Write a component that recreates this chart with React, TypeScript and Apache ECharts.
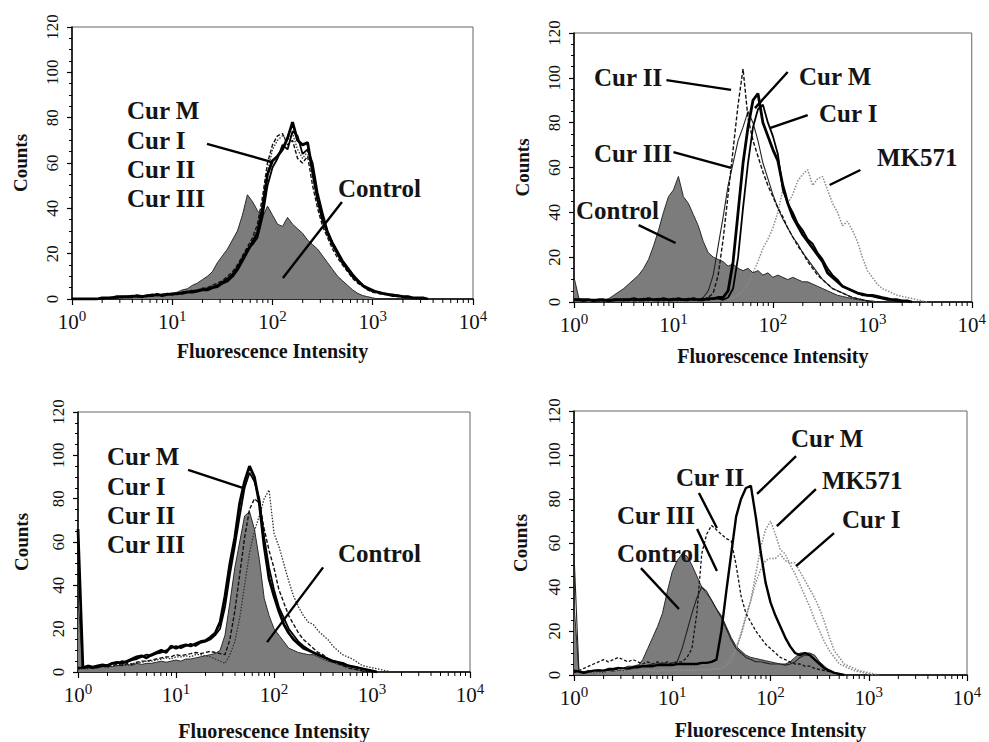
import React, { useEffect, useRef } from "react";
import * as echarts from "echarts";

// ---- channel grid (log-spaced, 20 channels per decade) ----
const DECADE_STEPS = [1, 1.122, 1.259, 1.413, 1.585, 1.778, 1.995, 2.239, 2.512, 2.818, 3.162, 3.548, 3.981, 4.467, 5.012, 5.623, 6.31, 7.079, 7.943, 8.913];
const DECADES = [1, 10, 100, 1000];
const CHANNELS = [...DECADES.flatMap((d) => DECADE_STEPS.map((s) => +(s * d).toPrecision(4))), 10000];
const MINOR_X = [2, 3, 4, 5, 6, 7, 8, 9, 20, 30, 40, 50, 60, 70, 80, 90, 200, 300, 400, 500, 600, 700, 800, 900, 2000, 3000, 4000, 5000, 6000, 7000, 8000, 9000];

// ---- Panel 1 (top-left) ----
const P1_CONTROL = [0,0,0,0,0,0,0.5,0.5,1,0.5, 1,1,1.5,1,1.5,1.5,2,1.5,2,2.5, 2.5,3,4,4.5,6,7,8.5,10,12,16, 19,22,26,30,37,46,43,39,36,41, 37,33,32,36,33,31,29,26,24,22, 19,16,13,10,8,6,4,2.5,1.5,1, 0.5,0];
const P1_CUR_M = [0,0,0,0,0,0,0.5,0.5,0.5,1, 1,1,1,1.5,1,1.5,1.5,2,1.5,2, 2,2.5,2.5,3,3,3.5,4,4,5,5.5, 7,8,10,13,17,21,25,29,40,55, 61,63,66,71,78,70,68,69,56,44, 35,29,24,20,16,13,10,8,6,4.5, 3.5,3,2.5,2,1.5,1.5,1,1,0.5,0.5,0.5,0];
const P1_CUR_I = [0,0,0,0,0,0,0,0.5,0.5,0.5, 1,1,1.5,1,1,1.5,2,1.5,2,2, 2.5,2,3,3,3.5,3.5,4,4.5,5,6, 7.5,9,11,14,18,22,24,27,36,50, 58,62,68,66,74,72,64,66,60,47, 38,30,25,21,17,14,11,8.5,6,5, 4,3,2.5,2,2,1.5,1,1,0.5,0.5,0];
const P1_CUR_II = [0,0,0,0,0,0,0.5,0.5,0.5,1, 0.5,1,1,1.5,1.5,1,2,2,1.5,2.5, 2,2.5,3,3.5,3.5,4,4.5,5,6,7, 8,10,12,15,19,23,27,33,45,60, 68,72,73,68,70,62,60,63,50,40, 32,27,22,18,15,12,9,7,5.5,4, 3,2.5,2,2,1.5,1,1,0.5,0.5,0,0];
const P1_CUR_III = [0,0,0,0,0,0,0,0.5,0.5,0.5, 1,1,1,1,1.5,1.5,1.5,2,2,2, 2.5,2.5,3,3,4,4,5,5,6,6.5, 7,9,11,14,18,22,26,31,42,56, 66,70,72,70,73,66,62,65,56,46, 36,30,24,20,16,13,10,8,6,4.5, 3.5,3,2.5,2,1.5,1.5,1,1,0.5,0.5,0];

// ---- Panel 2 (top-right) ----
const P2_CONTROL = [11,1.5,1,1,1,0.5,1,1.5,3,4.5, 6,8,10,12,15,19,25,32,40,47, 50,56,47,44,39,34,27,22,20,19, 18,16,17,15,14,15,13,14,12,13, 11,12,11,10,11,10,9,9,8,7, 6,5,4,3,2.5,2,1.5,1,1,0.5,0.5,0];
const P2_CUR_M = [1,1,1,1,0.5,1,1,0.5,1,1, 1,1,1.5,1,1,1.5,1,1,1.5,1, 1,1.5,1,1,1.5,1,1,1.5,1.5,2, 2,5,18,40,62,78,90,93,80,74, 68,63,52,44,38,34,30,27,24,21, 18,13,11,9,7,6,5,4,3.5,3, 3,2.5,2,1.5,1,1,0.5,0.5,0];
const P2_CUR_I = [1,1,0.5,1,1,1,0.5,1,1,1, 1,1,1,1,1.5,1,1,1.5,1,1, 1.5,1,1,1.5,1,1,1.5,1,1.5,1.5, 1,2,6,20,42,62,78,86,88,80, 74,66,50,44,40,35,32,28,26,22, 19,15,12,10,7,6,5,4,3,3, 2.5,2,1.5,1,1,0.5,0];
const P2_CUR_II = [1,0.5,0.5,1,0.5,0.5,1,0.5,0.5,1, 0.5,1,0.5,0.5,1,0.5,1,0.5,1,0.5, 1,0.5,1,1,1,1,1,2,4,12, 28,48,68,88,104,82,72,65,58,52, 47,42,38,33,29,25,22,18,15,12, 10,8,6,5,4,3,2,1.5,1,0.5,0];
const P2_CUR_III = [1,1,0.5,1,1,0.5,1,1,0.5,1, 1,0.5,1,1,0.5,1,1,1,0.5,1, 1,1,1,1,1,1,2,5,12,25, 38,52,62,72,78,85,80,72,62,55, 48,42,37,33,29,26,22,19,16,13, 10,8,6,5,4,3,2,1.5,1,0.5,0];
const P2_MK571 = [1,0.5,1,0.5,1,1,0.5,1,0.5,1, 1,0.5,1,1,0.5,1,1,0.5,1,1, 1,1,0.5,1,1,1,1,1,1,1, 1,1.5,2,3,5,8,13,18,24,28, 33,40,50,44,48,54,57,59,52,55, 56,50,44,40,34,36,32,27,20,14, 11,8,6,5,4,3,2.5,2,1.5,1,0.5,0];

// ---- Panel 3 (bottom-left) ----
const P3_CONTROL = [34,2,2,2.5,2,2.5,3,2.5,3,3, 3.5,3,4,3.5,4,4,4.5,5,4.5,5, 5.5,5,6,6,6.5,7,7.5,8,8.5,10, 17,32,48,60,72,74,66,52,34,26, 20,17,14,11,10,9,8.5,8,8,7, 6,5,4.5,3.5,3,2,1.5,1,0.5,0];
const P3_CUR_M = [66,2,2.5,2,2.5,3,3,4,4.5,4, 5,6,7,7.5,6.5,8,9,10,9,12, 11,12,12.5,12,13,14,14.5,16,18,23, 35,50,62,78,88,95,90,78,58,43, 35,28,22,18,15,13,11,10,9,8, 7,6,5,4.5,4,3,2.5,2,1.5,1,0.5,0];
const P3_CUR_I = [2,2,3,2.5,3,3.5,3,4,4,5, 4.5,5.5,6,7,8,7.5,8.5,9,10,11, 12,11,12,13,12,13.5,14,15,17,20, 30,45,58,72,85,92,88,80,62,48, 38,30,25,20,17,14,12,10.5,9,8, 7,6,5,4.5,3.5,3,2.5,2,1.5,1,0.5,0];
const P3_CUR_II = [1.5,2,2,2.5,2,3,2.5,3,3.5,3, 4,3.5,4.5,5,5,5.5,6,6.5,7,7, 8,7.5,8,8.5,9,8.5,9,9.5,9,8.5, 8,15,28,45,62,75,80,78,66,56, 48,38,32,26,22,18,15,13,11,9, 8,6,5,4,3,2,1.5,1,0.5,0];
const P3_CUR_III = [1,1.5,1.5,2,2,2.5,2,3,3,3.5, 3,4,4,4.5,5,5,5.5,6,6.5,6, 7,7,7.5,7,8,8,7.5,7,6,5, 4,8,14,25,40,55,65,72,80,84, 64,58,50,42,35,30,26,23,22,19, 17,15,12,10,8,7,6,4.5,3,2.5,2,1.5,1,0.5,0];

// ---- Panel 4 (bottom-right) ----
const P4_CONTROL = [32,1.5,1,1.5,1,1.5,1,2,1.5,2, 2,2.5,3,4,7,12,17,22,28,38, 47,52,55,54,50,45,40,37,34,30, 27,22,17,13,11,9,8,7.5,7,6.5, 6,5.5,5,5,6,8,10,10,10,9, 6,4,2,1,0.5,0];
const P4_CUR_III = [55,2,1.5,2,2,2.5,2,3,3,3.5, 3,4,4,4.5,4,4.5,5,5,5.5,5, 5.5,6,12,20,28,35,40,38,34,30, 26,21,16,12,10,8,7,6,6,5.5, 5,5,5,4.5,5,6,8,9,9,7, 5,3,2,1,0.5,0];
const P4_CUR_M = [2,1.5,1,1.5,2,2,2,2.5,2.5,3, 3,3,3.5,3.5,4,4,4,4.5,4.5,4.5, 4.5,5,5,5,5,5,5.5,5.5,6,7, 20,38,55,72,80,85,86,72,56,42, 33,27,22,17,13,10,9,10,9,7, 5,3,2,1,0.5,0];
const P4_CUR_II = [1,2,3,4,5,6,7,6,7,8, 7,6,7,6,5,6,5,6,5,6, 5,6,6,8,12,28,55,64,68,66, 64,62,61,50,36,28,24,20,17,14, 12,10,8,7,6,5,5,4,4,3, 2.5,2,1.5,1,0.5,0];
const P4_MK571 = [1,1,1.5,1,1.5,2,1.5,2,2,1.5, 2,2,1.5,2,2,2.5,2,2,2.5,2, 2,2.5,2,2.5,2.5,2,2.5,2.5,2.5,3, 3,5,8,12,18,26,34,46,58,66, 70,64,57,55,50,46,41,36,31,25, 20,15,11,8,5,4,3,2,1.5,1,0.5,0];
const P4_CUR_I = [1,1.5,1,1,1.5,1,1.5,1.5,1,1.5, 1.5,2,1.5,2,1.5,2,2,1.5,2,2, 2,2,2.5,2,2,2.5,2.5,2,2.5,2.5, 3,4,6,12,19,27,34,42,48,52, 53,53,55,52,51,51,47,43,39,35, 30,24,17,11,8,5,4,3,2,1.5,1,0.5,0];

// ---- arrows (data coordinates: [intensity, count]) ----
const P1_ARROWS = [[[22.2, 68.4], [99, 60.4]], [[493, 42.8], [127, 9.3]]];
const P2_ARROWS = [[[8.5, 99], [38, 94.6]], [[141, 102.6], [66, 86.5]], [[224, 83.4], [93, 77.6]], [[10, 66.9], [38, 59.8]], [[759, 58.9], [372, 52.2]], [[4.47, 34.3], [10.5, 26.3]]];
const P3_ARROWS = [[[13.3, 93.3], [50.5, 84.6]], [[317, 48.3], [85, 13.8]]];
const P4_ARROWS = [[[182, 99.5], [73, 82.3]], [[18.7, 82.7], [28.5, 66.8]], [[17.9, 66.4], [28.5, 47.3]], [[290, 84.5], [116, 67.7]], [[443, 64.5], [182, 49.5]], [[4.8, 48.6], [11.7, 30]]];

const FONT = "Liberation Serif, DejaVu Serif, serif";

type LS = { color: string; width: number; type: any };
const CONTROL_LINE: LS = { color: "#2a2a2a", width: 1, type: "solid" };
const CUR_M: LS = { color: "#000", width: 2.8, type: "solid" };
const CUR_I: LS = { color: "#000", width: 1.8, type: "solid" };
const CUR_II: LS = { color: "#111", width: 1.4, type: [4, 2] };
const CUR_III: LS = { color: "#333", width: 1.3, type: [1.5, 1.5] };
const THIN_SOLID: LS = { color: "#222", width: 1.1, type: "solid" };
const GRAY_DOT: LS = { color: "#8a8a8a", width: 1.5, type: [1.5, 1.5] };

const PANELS = [
  {
    grid: { left: 72, top: 27, width: 401, height: 272 },
    xNameGap: 42, yNameGap: 42,
    control: P1_CONTROL,
    curves: [
      { name: "Cur III", data: P1_CUR_III, style: CUR_III },
      { name: "Cur II", data: P1_CUR_II, style: CUR_II },
      { name: "Cur I", data: P1_CUR_I, style: CUR_I },
      { name: "Cur M", data: P1_CUR_M, style: CUR_M },
    ],
    arrows: P1_ARROWS,
    texts: [["Cur M", 127, 110], ["Cur I", 127, 140], ["Cur II", 127, 169], ["Cur III", 127, 198], ["Control", 338, 188]],
  },
  {
    grid: { left: 574, top: 33, width: 400, height: 269 },
    xNameGap: 44, yNameGap: 42,
    control: P2_CONTROL,
    curves: [
      { name: "MK571", data: P2_MK571, style: GRAY_DOT },
      { name: "Cur III", data: P2_CUR_III, style: THIN_SOLID },
      { name: "Cur II", data: P2_CUR_II, style: CUR_II },
      { name: "Cur I", data: P2_CUR_I, style: CUR_I },
      { name: "Cur M", data: P2_CUR_M, style: CUR_M },
    ],
    arrows: P2_ARROWS,
    texts: [["Cur II", 594, 77], ["Cur M", 799, 76], ["Cur I", 819, 113], ["Cur III", 594, 153], ["MK571", 877, 157], ["Control", 576, 210]],
  },
  {
    grid: { left: 78, top: 412, width: 392, height: 261 },
    xNameGap: 49, yNameGap: 47,
    control: P3_CONTROL,
    curves: [
      { name: "Cur III", data: P3_CUR_III, style: CUR_III },
      { name: "Cur II", data: P3_CUR_II, style: CUR_II },
      { name: "Cur I", data: P3_CUR_I, style: CUR_I },
      { name: "Cur M", data: P3_CUR_M, style: CUR_M },
    ],
    arrows: P3_ARROWS,
    texts: [["Cur M", 107, 456], ["Cur I", 107, 486], ["Cur II", 107, 515], ["Cur III", 107, 544], ["Control", 338, 553]],
  },
  {
    grid: { left: 574, top: 411, width: 393, height: 264 },
    xNameGap: 45, yNameGap: 44,
    control: P4_CONTROL,
    curves: [
      { name: "Cur I", data: P4_CUR_I, style: GRAY_DOT },
      { name: "MK571", data: P4_MK571, style: GRAY_DOT },
      { name: "Cur II", data: P4_CUR_II, style: { color: "#111", width: 1.3, type: [3, 2] } },
      { name: "Cur III", data: P4_CUR_III, style: THIN_SOLID },
      { name: "Cur M", data: P4_CUR_M, style: { color: "#000", width: 2.4, type: "solid" } },
    ],
    arrows: P4_ARROWS,
    texts: [["Cur M", 791, 438], ["Cur II", 676, 477], ["Cur III", 617, 515], ["MK571", 822, 480], ["Cur I", 842, 519], ["Control", 617, 553]],
  },
];

const toPoints = (arr: number[]) => arr.map((c, i) => [CHANNELS[i], c]);

export default function App() {
  const ref = useRef<HTMLDivElement>(null);
  useEffect(() => {
    if (!ref.current) return;
    const chart = echarts.init(ref.current, undefined, { renderer: "svg" });
    const grids: any[] = [];
    const xAxes: any[] = [];
    const yAxes: any[] = [];
    const series: any[] = [];
    const graphics: any[] = [];

    PANELS.forEach((p, k) => {
      grids.push({ ...p.grid, show: true, borderColor: "#666", borderWidth: 1, containLabel: false });
      xAxes.push({
        gridIndex: k,
        type: "log",
        logBase: 10,
        min: 1,
        max: 10000,
        name: "Fluorescence Intensity",
        nameLocation: "middle",
        nameGap: p.xNameGap,
        nameTextStyle: { fontFamily: FONT, fontWeight: "bold", fontSize: 20, color: "#111" },
        axisLine: { show: true, lineStyle: { color: "#000", width: 1.5 } },
        axisTick: { show: true, inside: false, length: 6, lineStyle: { color: "#000", width: 1.2 } },
        splitLine: { show: false },
        axisLabel: {
          margin: 9,
          formatter: (v: number) => `{b|10}{s|${Math.round(Math.log10(v))}}`,
          rich: {
            b: { fontFamily: FONT, fontSize: 21, color: "#111", lineHeight: 24, verticalAlign: "bottom" },
            s: { fontFamily: FONT, fontSize: 15, color: "#111", lineHeight: 15, verticalAlign: "top" },
          },
        },
      });
      yAxes.push({
        gridIndex: k,
        type: "value",
        min: 0,
        max: 120,
        interval: 20,
        name: "Counts",
        nameLocation: "middle",
        nameRotate: 90,
        nameGap: p.yNameGap,
        nameTextStyle: { fontFamily: FONT, fontWeight: "bold", fontSize: 19, color: "#111" },
        axisLine: { show: true, lineStyle: { color: "#000", width: 1.5 } },
        axisTick: { show: true, inside: false, length: 5, lineStyle: { color: "#000", width: 1.2 } },
        minorTick: { show: true, splitNumber: 4, length: 3, lineStyle: { color: "#000", width: 1 } },
        splitLine: { show: false },
        axisLabel: { rotate: 90, margin: 11, fontFamily: FONT, fontSize: 17, color: "#111" },
      });

      series.push({
        type: "line",
        name: "Control",
        xAxisIndex: k,
        yAxisIndex: k,
        data: toPoints(p.control),
        symbol: "none",
        silent: true,
        lineStyle: CONTROL_LINE,
        areaStyle: { color: "#7c7c7c", opacity: 1 },
        z: 2,
        markLine: {
          silent: true,
          symbol: ["none", "arrow"],
          symbolSize: [0, 14],
          label: { show: false },
          lineStyle: { color: "#000", width: 2.4, type: "solid" },
          data: p.arrows.map((a) => [{ coord: a[0] }, { coord: a[1] }]),
          z: 20,
        },
      });
      p.curves.forEach((c, j) => {
        series.push({
          type: "line",
          name: c.name,
          xAxisIndex: k,
          yAxisIndex: k,
          data: toPoints(c.data),
          symbol: "none",
          silent: true,
          lineStyle: c.style,
          z: 3 + j,
        });
      });
      series.push({
        type: "custom",
        xAxisIndex: k,
        yAxisIndex: k,
        silent: true,
        clip: false,
        z: 30,
        data: MINOR_X.map((v) => [v, 0]),
        renderItem: (_params: any, api: any) => {
          const pt = api.coord([api.value(0), 0]);
          return {
            type: "line",
            shape: { x1: pt[0], y1: pt[1], x2: pt[0], y2: pt[1] + 4 },
            style: { stroke: "#000", lineWidth: 1 },
          };
        },
      });
      p.texts.forEach((t) => {
        graphics.push({
          type: "text",
          x: t[1] as number,
          y: t[2] as number,
          z: 100,
          style: {
            text: t[0] as string,
            fontFamily: FONT,
            fontWeight: "bold",
            fontSize: 25,
            fill: "#151515",
            verticalAlign: "middle",
            align: "left",
          },
        });
      });
    });

    chart.setOption({
      animation: false,
      backgroundColor: "#fff",
      grid: grids,
      xAxis: xAxes,
      yAxis: yAxes,
      series,
      graphic: graphics,
    });
    return () => chart.dispose();
  }, []);
  return <div ref={ref} style={{ position: "absolute", left: 0, top: 0, width: 989, height: 742, background: "#fff" }} />;
}
